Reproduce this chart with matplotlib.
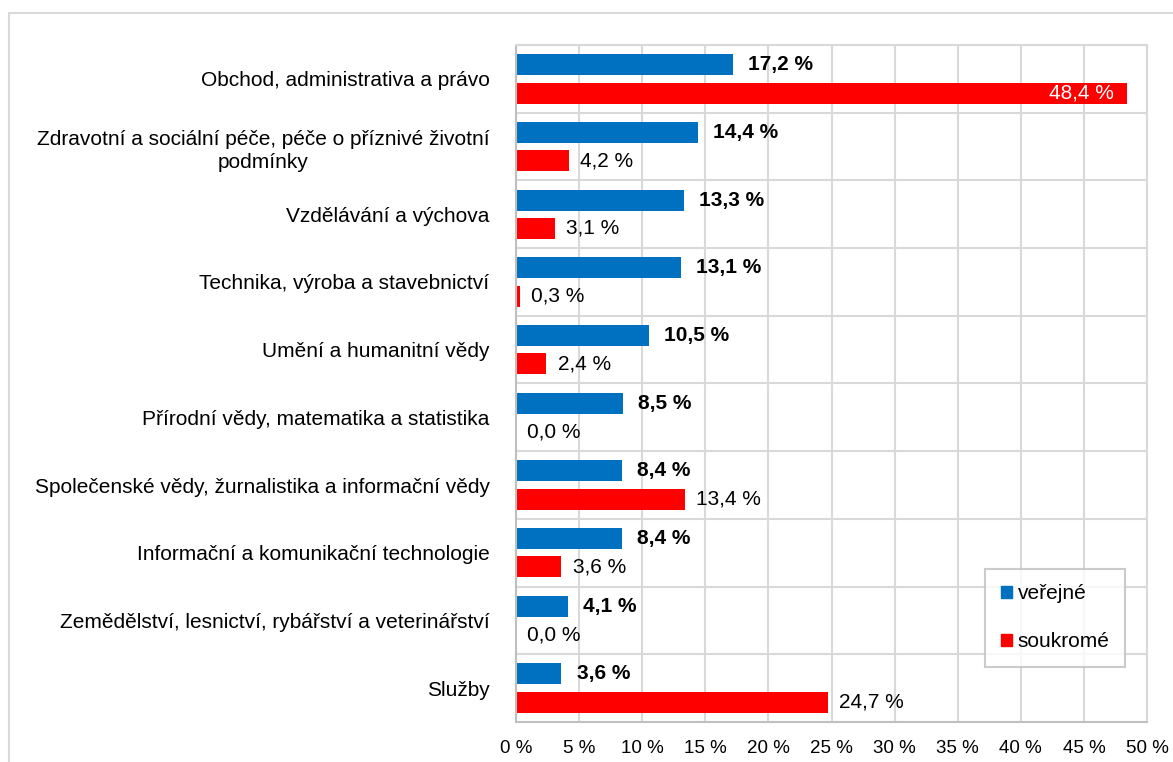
import matplotlib.pyplot as plt
import matplotlib.patches as mpatches
import numpy as np

plt.rcParams['font.family'] = ['Liberation Sans', 'DejaVu Sans']

categories = ['Obchod, administrativa a právo',
              'Zdravotní a sociální péče, péče o příznivé životní\npodmínky',
              'Vzdělávání a výchova',
              'Technika, výroba a stavebnictví',
              'Umění a humanitní vědy',
              'Přírodní vědy, matematika a statistika',
              'Společenské vědy, žurnalistika a informační vědy',
              'Informační a komunikační technologie',
              'Zemědělství, lesnictví, rybářství a veterinářství',
              'Služby']
verejne = [17.2, 14.4, 13.3, 13.1, 10.5, 8.5, 8.4, 8.4, 4.1, 3.6]
soukrome = [48.4, 4.2, 3.1, 0.3, 2.4, 0.0, 13.4, 3.6, 0.0, 24.7]
ticks = [0, 5, 10, 15, 20, 25, 30, 35, 40, 45, 50]

blue = '#0070C0'
red = '#FF0000'
grid = '#D9D9D9'

W, H = 1173, 762
fig = plt.figure(figsize=(W / 100, H / 100), dpi=100)
ax = fig.add_axes([516 / W, 1 - 722 / H, 631 / W, 677 / H])

# outer chart border
fig.patches.append(mpatches.Rectangle((9 / W, -0.05), 1.2, 1 - 13 / H + 0.05,
                                      transform=fig.transFigure, fill=False,
                                      edgecolor=grid, linewidth=1.5))

y = np.arange(len(categories))
h = 0.31
ax.barh(y - 0.21, verejne, height=h, color=blue, label='veřejné')
ax.barh(y + 0.21, soukrome, height=h, color=red, label='soukromé')

fs = 15
for yi, v in zip(y, verejne):
    ax.text(v + 1.2, yi - 0.21, ('%.1f %%' % v).replace('.', ','),
            va='center', ha='left', fontsize=fs, fontweight='bold')
for yi, v in zip(y, soukrome):
    s = ('%.1f %%' % v).replace('.', ',')
    if v > 40:
        ax.text(v - 1.0, yi + 0.21, s, va='center', ha='right',
                fontsize=fs, color='white')
    else:
        ax.text(v + 0.9, yi + 0.21, s, va='center', ha='left', fontsize=fs)

ax.set_xlim(0, 50)
ax.set_ylim(len(categories) - 0.5, -0.5)
ax.set_xticks(ticks)
ax.set_xticklabels(['%d %%' % t for t in ticks], fontsize=13.5)
ax.set_yticks(y)
ax.set_yticklabels(categories, fontsize=fs, ha='right', multialignment='center',
                   linespacing=1.3)
ax.set_yticks(np.arange(len(categories) + 1) - 0.5, minor=True)
ax.tick_params(axis='both', which='both', length=0)
ax.tick_params(axis='x', pad=13)
ax.tick_params(axis='y', pad=19)
ax.xaxis.grid(True, color=grid, linewidth=1.5)
ax.yaxis.grid(True, which='minor', color=grid, linewidth=1.5)
ax.set_axisbelow(True)
for s in ax.spines.values():
    s.set_color(grid)
    s.set_linewidth(1.5)
ax.spines['left'].set_color('#BFBFBF')
ax.spines['bottom'].set_color('#BFBFBF')

handles = [mpatches.Patch(color=blue), mpatches.Patch(color=red)]
leg = ax.legend(handles, ['veřejné', 'soukromé'], loc='lower right',
                bbox_to_anchor=((1125 - 516) / 631, (722 - 667) / 677),
                fontsize=fs, frameon=True, fancybox=False, edgecolor='#BFBFBF',
                handlelength=0.55, handleheight=0.55, handletextpad=0.25,
                labelspacing=1.4, borderpad=0.75, borderaxespad=0)
leg.get_frame().set_linewidth(1.5)

fig.savefig('out.png', dpi=100)
